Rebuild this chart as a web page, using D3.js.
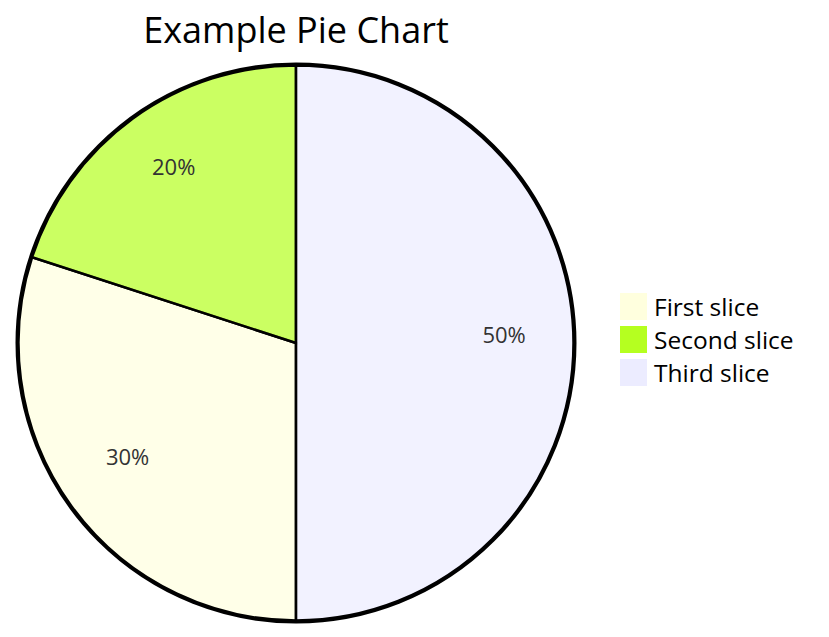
<!DOCTYPE html>
<html>
<head>
<meta charset="utf-8">
<script src="https://cdn.jsdelivr.net/npm/d3@7"></script>
<style>
  html, body { margin: 0; padding: 0; background: #fff; }
  svg { display: block; font-family: "Open Sans", "Noto Sans", sans-serif; }
</style>
</head>
<body>
<svg id="chart" width="829" height="637"></svg>
<script>
// Pie data
const title = "Example Pie Chart";
const sliceLabels = ["First slice", "Second slice", "Third slice"];
const sliceValues = [30, 20, 50];
// Palette, handed out to slices from largest to smallest
const palette = ["#ececff", "#ffffde", "#b5ff20"];

const data = sliceLabels.map((label, i) => ({ label, value: sliceValues[i] }));
const total = d3.sum(sliceValues);

const svg = d3.select("#chart");
const cx = 296, cy = 343, radius = 277.5;

const pie = d3.pie().value(d => d.value); // default: largest first
const arcs = pie(data);

const byRank = arcs.slice().sort((a, b) => a.index - b.index).map(a => a.data.label);
const color = d3.scaleOrdinal().domain(byRank).range(palette);

const arc = d3.arc().innerRadius(0).outerRadius(radius);
const labelArc = d3.arc().innerRadius(radius * 0.75).outerRadius(radius * 0.75);

// Title
svg.append("text")
  .attr("x", cx).attr("y", 43)
  .attr("text-anchor", "middle")
  .attr("font-size", 36)
  .attr("fill", "#000")
  .text(title);

const g = svg.append("g").attr("transform", `translate(${cx},${cy})`);

// Outer ring
g.append("circle")
  .attr("r", radius + 1.5)
  .attr("fill", "none")
  .attr("stroke", "#000")
  .attr("stroke-width", 3);

// Slices
g.selectAll("path.slice")
  .data(arcs)
  .join("path")
  .attr("class", "slice")
  .attr("d", arc)
  .attr("fill", d => color(d.data.label))
  .attr("fill-opacity", 0.7)
  .attr("stroke", "#000")
  .attr("stroke-width", 2.5);

// Percentage labels
g.selectAll("text.pct")
  .data(arcs)
  .join("text")
  .attr("class", "pct")
  .attr("transform", d => `translate(${labelArc.centroid(d)})`)
  .attr("text-anchor", "middle")
  .attr("font-size", 22)
  .attr("fill", "#333")
  .text(d => (d.data.value / total * 100).toFixed(0) + "%");

// Legend
const legend = svg.append("g").attr("transform", "translate(620,293)");
const item = legend.selectAll("g")
  .data(sliceLabels)
  .join("g")
  .attr("transform", (d, i) => `translate(0,${i * 33})`);
item.append("rect")
  .attr("width", 27).attr("height", 27)
  .attr("fill", d => color(d));
item.append("text")
  .attr("x", 34).attr("y", 23)
  .attr("font-size", 24.5)
  .attr("fill", "#000")
  .text(d => d);
</script>
</body>
</html>
